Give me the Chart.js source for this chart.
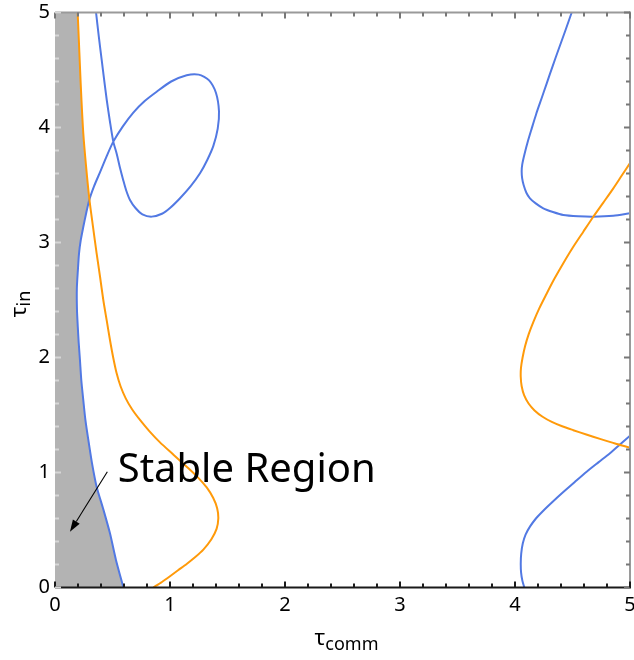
<!DOCTYPE html>
<html>
<head>
<meta charset="utf-8">
<script src="https://cdn.jsdelivr.net/npm/chart.js@4.4.1/dist/chart.umd.min.js"></script>
<style>
  html, body { margin: 0; padding: 0; background: #fff; }
  #wrap { width: 634px; height: 660px; }
</style>
</head>
<body>
<div id="wrap"><canvas id="plot" width="634" height="660"></canvas></div>
<script>
/* ---------- Data ---------- */
// left blue curve: from the bottom axis up, round the loop, out at the top
const blueLeftX = [0.595, 0.530, 0.478, 0.420, 0.362, 0.322, 0.290, 0.264, 0.246, 0.229, 0.217, 0.206, 0.198, 0.191, 0.190, 0.199, 0.209, 0.224, 0.245, 0.270, 0.298, 0.340, 0.391, 0.447, 0.507, 0.590, 0.681, 0.780, 0.884, 1.010, 1.145, 1.250, 1.340, 1.400, 1.426, 1.415, 1.377, 1.325, 1.261, 1.180, 1.087, 1.000, 0.930, 0.841, 0.760, 0.700, 0.652, 0.620, 0.594, 0.565, 0.537, 0.507, 0.478, 0.450, 0.428, 0.406, 0.381, 0.357];
const blueLeftY = [0.000, 0.240, 0.471, 0.680, 0.877, 1.080, 1.283, 1.460, 1.630, 1.800, 1.978, 2.130, 2.270, 2.420, 2.600, 2.760, 2.906, 3.020, 3.130, 3.250, 3.370, 3.490, 3.610, 3.745, 3.877, 4.010, 4.130, 4.230, 4.311, 4.400, 4.455, 4.460, 4.410, 4.300, 4.140, 3.990, 3.840, 3.720, 3.602, 3.490, 3.385, 3.300, 3.250, 3.225, 3.245, 3.300, 3.370, 3.450, 3.540, 3.650, 3.770, 3.877, 4.050, 4.239, 4.410, 4.587, 4.790, 5.000];

// left orange curve, top to bottom
const orangeLeftX = [0.197, 0.207, 0.217, 0.230, 0.246, 0.270, 0.298, 0.330, 0.362, 0.392, 0.420, 0.450, 0.478, 0.506, 0.536, 0.570, 0.615, 0.670, 0.739, 0.820, 0.913, 1.030, 1.145, 1.240, 1.319, 1.375, 1.410, 1.420, 1.405, 1.360, 1.290, 1.220, 1.145, 1.070, 1.000, 0.930, 0.855];
const orangeLeftY = [5.000, 4.770, 4.530, 4.240, 3.950, 3.665, 3.384, 3.140, 2.906, 2.700, 2.500, 2.320, 2.152, 2.000, 1.862, 1.750, 1.645, 1.550, 1.457, 1.360, 1.262, 1.155, 1.050, 0.960, 0.870, 0.780, 0.690, 0.600, 0.510, 0.420, 0.330, 0.265, 0.205, 0.150, 0.098, 0.048, 0.000];

// right side, upper blue curve
const blueUpperX = [4.493, 4.435, 4.377, 4.326, 4.276, 4.230, 4.185, 4.145, 4.112, 4.083, 4.063, 4.058, 4.062, 4.075, 4.100, 4.130, 4.180, 4.246, 4.330, 4.420, 4.550, 4.681, 4.855, 5.000];
const blueUpperY = [5.000, 4.835, 4.674, 4.530, 4.384, 4.250, 4.120, 3.990, 3.880, 3.770, 3.680, 3.620, 3.560, 3.500, 3.430, 3.384, 3.340, 3.297, 3.265, 3.239, 3.228, 3.224, 3.232, 3.254];

// right side orange curve
const orangeRightX = [5.000, 4.927, 4.855, 4.768, 4.681, 4.594, 4.507, 4.420, 4.340, 4.270, 4.210, 4.160, 4.120, 4.088, 4.066, 4.052, 4.050, 4.058, 4.080, 4.118, 4.170, 4.240, 4.320, 4.410, 4.507, 4.620, 4.739, 4.870, 5.000];
const orangeRightY = [3.690, 3.580, 3.471, 3.347, 3.224, 3.094, 2.963, 2.820, 2.680, 2.545, 2.425, 2.310, 2.205, 2.100, 2.000, 1.910, 1.830, 1.750, 1.670, 1.600, 1.540, 1.485, 1.440, 1.402, 1.368, 1.330, 1.292, 1.252, 1.216];

// right side, lower blue curve
const blueLowerX = [4.081, 4.064, 4.053, 4.050, 4.054, 4.068, 4.092, 4.130, 4.182, 4.246, 4.330, 4.420, 4.520, 4.623, 4.725, 4.826, 4.915, 5.000];
const blueLowerY = [0.000, 0.060, 0.130, 0.210, 0.295, 0.384, 0.460, 0.529, 0.600, 0.668, 0.748, 0.830, 0.918, 1.007, 1.088, 1.167, 1.245, 1.320];

// shaded stable region (closed outline: left axis, blue boundary, orange boundary)
const stableX = [0, 0.595, 0.530, 0.478, 0.420, 0.362, 0.322, 0.290, 0.264, 0.246, 0.229, 0.217, 0.206, 0.198, 0.191, 0.190, 0.199, 0.209, 0.224, 0.245, 0.270, 0.296, 0.270, 0.246, 0.230, 0.217, 0.207, 0.197, 0, 0];
const stableY = [0, 0.000, 0.240, 0.471, 0.680, 0.877, 1.080, 1.283, 1.460, 1.630, 1.800, 1.978, 2.130, 2.270, 2.420, 2.600, 2.760, 2.906, 3.020, 3.130, 3.250, 3.380, 3.665, 3.950, 4.240, 4.530, 4.770, 5.000, 5, 0];

// annotation
const labelText = 'Stable Region';
const labelAt = [0.545, 0.915];
const arrowFrom = [0.455, 1.007];
const arrowTo = [0.130, 0.485];

// ticks
const majorTicks = [0, 1, 2, 3, 4, 5];
const minorTicks = [0.2, 0.4, 0.6, 0.8, 1.2, 1.4, 1.6, 1.8, 2.2, 2.4, 2.6, 2.8, 3.2, 3.4, 3.6, 3.8, 4.2, 4.4, 4.6, 4.8];

const BLUE = '#5279e3';
const ORANGE = '#ff9a0a';
const FONT = "'Noto Sans', 'Open Sans', sans-serif";
const SHADE = '#b3b3b3';

function pts(xs, ys) {
  return xs.map((v, i) => ({ x: v, y: ys[i] }));
}

/* ---------- Frame + inner ticks, drawn as 2px bars ---------- */
function paintFrame(chart) {
  const ctx = chart.ctx;
  const a = chart.chartArea;
  const sx = chart.scales.x, sy = chart.scales.y;
  const w = 2;
  ctx.save();

  // top / right grey, bottom black (left edge is under the shading)
  ctx.fillStyle = '#9a9a9a';
  ctx.fillRect(a.left, a.top - 1, a.right - a.left, w);
  ctx.fillRect(a.right - 1, a.top - 1, w, a.bottom - a.top + 1);
  ctx.fillStyle = '#1a1a1a';
  ctx.fillRect(a.left, a.bottom - 1, a.right - a.left + 1, w);

  const groups = [[majorTicks, 6], [minorTicks, 4]];
  for (const g of groups) {
    const len = g[1];
    for (const v of g[0]) {
      const px = sx.getPixelForValue(v);
      const py = sy.getPixelForValue(v);
      ctx.fillStyle = '#1a1a1a';
      ctx.fillRect(px - 1, a.bottom - len, w, len);
      ctx.fillStyle = '#777';
      ctx.fillRect(px - 1, a.top, w, len);
      ctx.fillRect(a.right - len, py - 1, len, w);
      ctx.fillStyle = '#d6d6d6';
      ctx.fillRect(a.left, py - 1, len, w);
    }
  }
  ctx.restore();
}

/* ---------- Arrow, label, axis titles ---------- */
function paintNote(chart) {
  const ctx = chart.ctx;
  const sx = chart.scales.x, sy = chart.scales.y;
  ctx.save();
  const x1 = sx.getPixelForValue(arrowFrom[0]), y1 = sy.getPixelForValue(arrowFrom[1]);
  const x2 = sx.getPixelForValue(arrowTo[0]), y2 = sy.getPixelForValue(arrowTo[1]);
  const ang = Math.atan2(y2 - y1, x2 - x1);
  const head = 12, half = 4;
  const bx = x2 - head * Math.cos(ang), by = y2 - head * Math.sin(ang);
  ctx.strokeStyle = '#000';
  ctx.fillStyle = '#000';
  ctx.lineWidth = 1.1;
  ctx.beginPath();
  ctx.moveTo(x1, y1);
  ctx.lineTo(bx, by);
  ctx.stroke();
  ctx.beginPath();
  ctx.moveTo(x2, y2);
  ctx.lineTo(bx + half * Math.sin(ang), by - half * Math.cos(ang));
  ctx.lineTo(bx - half * Math.sin(ang), by + half * Math.cos(ang));
  ctx.closePath();
  ctx.fill();

  ctx.font = '40px ' + FONT;
  ctx.textBaseline = 'alphabetic';
  ctx.textAlign = 'left';
  ctx.fillText(labelText, sx.getPixelForValue(labelAt[0]), sy.getPixelForValue(labelAt[1]));
  ctx.restore();
}

function paintTitles(chart) {
  const ctx = chart.ctx;
  const a = chart.chartArea;
  const titled = (main, sub, cx, base) => {
    ctx.font = '22px ' + FONT;
    const w1 = ctx.measureText(main).width;
    ctx.font = '18px ' + FONT;
    const w2 = ctx.measureText(sub).width;
    const start = cx - (w1 + w2) / 2;
    ctx.font = '22px ' + FONT;
    ctx.fillText(main, start, base);
    ctx.font = '18px ' + FONT;
    ctx.fillText(sub, start + w1, base + 4.5);
  };
  ctx.save();
  ctx.fillStyle = '#000';
  ctx.textBaseline = 'alphabetic';
  ctx.textAlign = 'left';
  titled('\u03c4', 'comm', (a.left + a.right) / 2 + 4, a.bottom + 57.5);
  ctx.translate(25.5, (a.top + a.bottom) / 2 + 4);
  ctx.rotate(-Math.PI / 2);
  titled('\u03c4', 'in', 0, 0);
  ctx.restore();
}

/* ---------- Chart ---------- */
const lineSet = (xs, ys, color) => ({
  data: pts(xs, ys),
  showLine: true,
  borderColor: color,
  borderWidth: 2,
  pointRadius: 0,
  tension: 0.25,
  fill: false,
  order: 0
});

new Chart(document.getElementById('plot'), {
  type: 'scatter',
  data: {
    datasets: [
      {
        data: pts(stableX, stableY),
        showLine: true,
        borderWidth: 0,
        borderColor: 'rgba(0,0,0,0)',
        backgroundColor: SHADE,
        pointRadius: 0,
        tension: 0,
        fill: 'shape',
        order: 1
      },
      lineSet(orangeLeftX, orangeLeftY, ORANGE),
      lineSet(orangeRightX, orangeRightY, ORANGE),
      lineSet(blueLeftX, blueLeftY, BLUE),
      lineSet(blueUpperX, blueUpperY, BLUE),
      lineSet(blueLowerX, blueLowerY, BLUE)
    ]
  },
  options: {
    responsive: false,
    animation: false,
    devicePixelRatio: 1,
    layout: { padding: { top: 12.5, right: 4 } },
    plugins: { legend: { display: false }, tooltip: { enabled: false } },
    scales: {
      x: {
        type: 'linear', min: 0, max: 5,
        grid: { display: false, drawTicks: false },
        border: { display: false },
        ticks: {
          stepSize: 1, padding: 6, color: '#000',
          font: { family: FONT, size: 20 }
        },
        afterFit(s) { s.height = 72.5; s.paddingLeft = 0; s.paddingRight = 0; }
      },
      y: {
        type: 'linear', min: 0, max: 5,
        grid: { display: false, drawTicks: false },
        border: { display: false },
        ticks: {
          stepSize: 1, padding: 5, color: '#000',
          font: { family: FONT, size: 20 }
        },
        afterFit(s) { s.width = 55; s.paddingTop = 0; s.paddingBottom = 0; }
      }
    }
  },
  plugins: [{
    id: 'notes',
    afterDatasetsDraw(chart) { paintNote(chart); },
    afterDraw(chart) { paintFrame(chart); paintTitles(chart); }
  }]
});
</script>
</body>
</html>
